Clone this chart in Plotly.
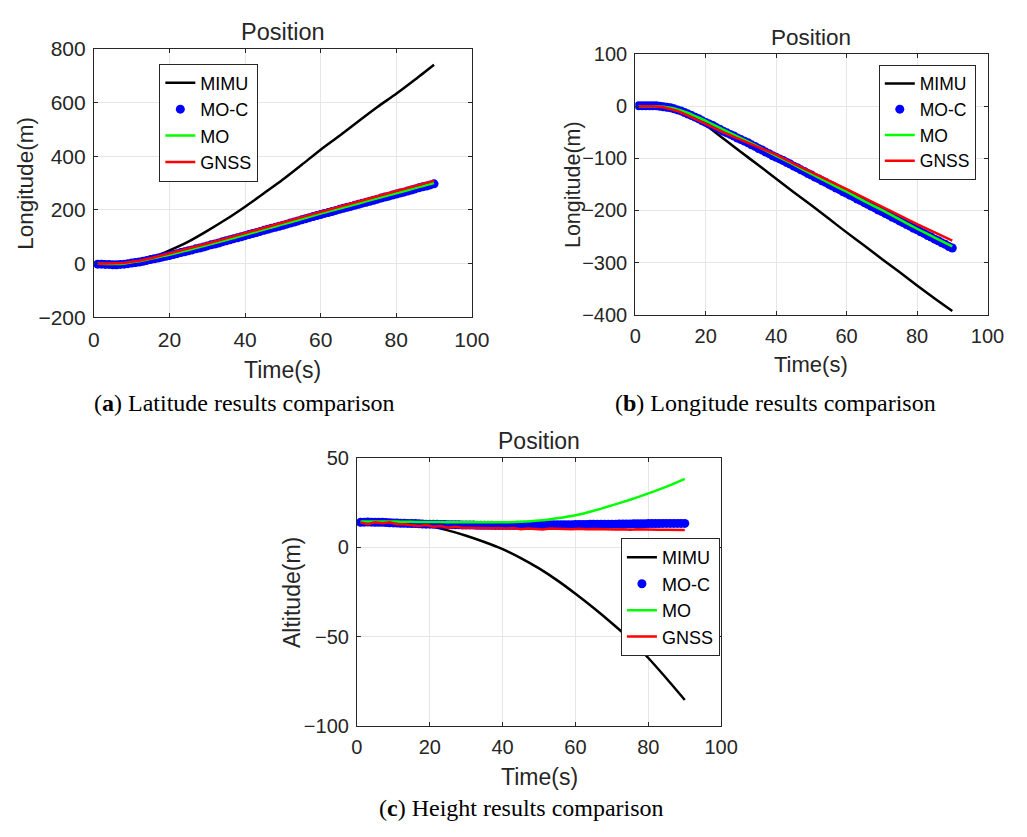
import plotly.graph_objects as go

# ---------------- data ----------------
t_line = [1, 5, 8, 10, 12, 15, 17, 20, 25, 30, 35, 40, 45, 50, 55, 60, 65, 70, 75, 80, 85, 90]
t_dense = [1, 2, 3, 4, 5, 6, 7, 8, 9, 10,
           11, 12, 13, 14, 15, 16, 17, 18, 19, 20,
           21, 22, 23, 24, 25, 26, 27, 28, 29, 30,
           31, 32, 33, 34, 35, 36, 37, 38, 39, 40,
           41, 42, 43, 44, 45, 46, 47, 48, 49, 50,
           51, 52, 53, 54, 55, 56, 57, 58, 59, 60,
           61, 62, 63, 64, 65, 66, 67, 68, 69, 70,
           71, 72, 73, 74, 75, 76, 77, 78, 79, 80,
           81, 82, 83, 84, 85, 86, 87, 88, 89, 90]
t_gnss_c = [1, 3, 5, 7, 9, 11, 13, 15, 17, 19, 21, 23, 25, 27, 29, 31, 33, 35, 37, 39, 41, 43, 45,
            47, 49, 51, 53, 55, 57, 59, 61, 63, 65, 67, 69, 71, 73, 75, 77, 79, 81, 83, 85, 87, 89, 90]

# (a) latitude
lat_mimu = [0, 0, 2, 6, 12, 22, 31, 49, 82, 122, 165, 212, 262, 313, 368, 424, 476, 530, 583, 632, 685, 740]
lat_gnss = [0, 0, 2, 7, 11, 20, 27, 38, 56, 75, 94, 113, 133, 153, 173, 193, 212, 231, 251, 270, 289, 308]
lat_mo = [0, -1, 0, 5, 9, 18, 24, 33, 51, 69, 88, 107, 127, 146, 166, 186, 205, 224, 243, 262, 281, 300]
lat_moc = [-2, -2, -3, -3, -4, -4, -3, -2, 0, 2,
           4, 6, 9, 12, 15, 18, 21, 24, 27, 30,
           34, 37, 41, 44, 48, 51, 55, 58, 62, 66,
           70, 73, 77, 81, 85, 89, 93, 96, 100, 104,
           108, 112, 116, 120, 124, 128, 132, 135, 139, 143,
           147, 151, 155, 159, 163, 167, 171, 175, 179, 183,
           187, 190, 194, 198, 202, 206, 210, 213, 217, 221,
           225, 228, 232, 236, 240, 244, 248, 251, 255, 259,
           263, 266, 270, 274, 278, 282, 286, 289, 293, 297]

# (b) longitude
lon_mimu = [0, 0, -1, -3, -6, -14, -22, -36, -62, -88, -113, -139, -165, -190, -216, -242, -267, -293,
            -318, -344, -369, -393]
lon_gnss = [0, 0, -2, -5, -9, -18, -24, -34, -50, -64, -78, -93, -110, -126, -143, -159, -176, -193,
            -210, -226, -242, -258]
lon_mo = [0, 0, -1, -3, -6, -13, -19, -28, -45, -61, -78, -95, -112, -130, -147, -164, -182, -199,
          -217, -235, -252, -269]
lon_moc = [1, 1, 1, 1, 1, 1, 0, -1, -2, -3,
           -5, -7, -9, -12, -15, -18, -21, -24, -28, -31,
           -34, -37, -41, -44, -48, -51, -54, -57, -61, -64,
           -67, -70, -74, -77, -81, -84, -88, -91, -95, -98,
           -101, -104, -108, -111, -115, -118, -122, -125, -129, -132,
           -136, -139, -143, -146, -150, -153, -157, -160, -164, -167,
           -171, -174, -178, -181, -185, -188, -192, -195, -199, -202,
           -206, -209, -213, -216, -220, -223, -227, -230, -234, -237,
           -241, -244, -248, -251, -255, -258, -262, -265, -269, -272]

# (c) height
alt_mimu = [14, 14, 13.8, 13.5, 13.3, 13, 12.6, 12, 9.5, 6.5, 3, -1, -6, -11.8, -18.5, -26, -34, -42.5,
            -51.5, -62, -73.5, -85.5]
alt_mo = [14.5, 14.5, 14.5, 14.5, 14.4, 14.3, 14.2, 14.2, 14.1, 14, 14, 14, 14.3, 15, 16.3, 18, 20.5,
          23.5, 26.7, 30.2, 34, 38.4]
alt_moc = [14, 14.1, 14.2, 14.1, 14, 14, 14, 13.9, 13.8, 13.7,
           13.6, 13.5, 13.5, 13.4, 13.3, 13.3, 13.2, 13.1, 13, 13,
           12.9, 12.9, 12.8, 12.8, 12.7, 12.7, 12.6, 12.6, 12.5, 12.5,
           12.5, 12.5, 12.4, 12.4, 12.4, 12.4, 12.4, 12.3, 12.3, 12.3,
           12.3, 12.3, 12.3, 12.4, 12.4, 12.4, 12.4, 12.5, 12.5, 12.5,
           12.5, 12.6, 12.6, 12.6, 12.6, 12.7, 12.7, 12.7, 12.7, 12.8,
           12.8, 12.8, 12.8, 12.9, 12.9, 12.9, 12.9, 13, 13, 13,
           13, 13.1, 13.1, 13.1, 13.1, 13.2, 13.2, 13.2, 13.2, 13.3,
           13.3, 13.3, 13.3, 13.4, 13.4, 13.4, 13.4, 13.4, 13.4, 13.4]
alt_gnss = [14, 13, 14, 13.5, 14, 13, 13, 12.5, 12, 12.5, 11.5, 12, 11, 11.5, 11, 11, 10.8, 11, 10.7,
            10.9, 10.6, 10.8, 10.2, 10.6, 10.3, 10, 10.5, 10.3, 10.4, 10.2, 10.4, 10.1, 10.3, 10.1,
            10.2, 10, 10.2, 9.9, 10.1, 9.9, 10, 9.8, 9.9, 9.7, 9.8, 9.7]

series_names = ["MIMU", "MO-C", "MO", "GNSS"]
x_ticks = [0, 20, 40, 60, 80, 100]
y_ticks_a = [-200, 0, 200, 400, 600, 800]
y_ticks_b = [-400, -300, -200, -100, 0, 100]
y_ticks_c = [-100, -50, 0, 50]

# ---------------- figure ----------------
W, H = 1027, 837
FONT = "Liberation Sans, Arial, sans-serif"
TXT = "#262626"

fig = go.Figure()

panels = [
    ("", "legend", lat_mimu, lat_moc, lat_mo, lat_gnss, t_line),
    ("2", "legend2", lon_mimu, lon_moc, lon_mo, lon_gnss, t_line),
    ("3", "legend3", alt_mimu, alt_moc, alt_mo, alt_gnss, t_gnss_c),
]
for suf, leg, mimu, moc, mo, gnss, tg in panels:
    xa, ya = "x" + suf, "y" + suf
    fig.add_trace(go.Scatter(x=t_line, y=mimu, mode="lines", name=series_names[0],
                             line=dict(color="#000000", width=2.5, shape="spline", smoothing=0.6),
                             xaxis=xa, yaxis=ya, legend=leg))
    fig.add_trace(go.Scatter(x=t_dense, y=moc, mode="markers", name=series_names[1],
                             marker=dict(color="#0000FF", size=9, symbol="circle", line=dict(width=0)),
                             xaxis=xa, yaxis=ya, legend=leg))
    fig.add_trace(go.Scatter(x=t_line, y=mo, mode="lines", name=series_names[2],
                             line=dict(color="#00FF00", width=2.5, shape="spline", smoothing=0.6),
                             xaxis=xa, yaxis=ya, legend=leg))
    fig.add_trace(go.Scatter(x=tg, y=gnss, mode="lines", name=series_names[3],
                             line=dict(color="#FF0000", width=2.5),
                             xaxis=xa, yaxis=ya, legend=leg))


def px_x(p):
    return p / W


def px_y(p):
    return 1 - p / H


def axis_common(fs):
    return dict(showline=True, linecolor=TXT, linewidth=1, mirror="ticks", ticks="inside",
                ticklen=4, tickcolor=TXT, showgrid=True, gridcolor="#e6e6e6", gridwidth=1,
                zeroline=False, tickfont=dict(family=FONT, size=fs, color=TXT))


boxes = {
    "a": dict(x0=90, x1=477, y0=37.7, y1=314, yr=[-200, 800], yt=y_ticks_a, fs=21),
    "b": dict(x0=644.3, x1=1005, y0=43.3, y1=311.3, yr=[-400, 100], yt=y_ticks_b, fs=20),
    "c": dict(x0=359.3, x1=732.3, y0=458.7, y1=734, yr=[-100, 50], yt=y_ticks_c, fs=20),
}
keys = {"a": ("xaxis", "yaxis", "y", "x"), "b": ("xaxis2", "yaxis2", "y2", "x2"),
        "c": ("xaxis3", "yaxis3", "y3", "x3")}
lay = {}
for k, b in boxes.items():
    xk, yk, anc_y, anc_x = keys[k]
    lay[xk] = dict(domain=[px_x(b["x0"]), px_x(b["x1"])], range=[0, 100], tickvals=x_ticks,
                   anchor=anc_y, ticklabelstandoff=3, **axis_common(b["fs"]))
    lay[yk] = dict(domain=[px_y(b["y1"]), px_y(b["y0"])], range=b["yr"], tickvals=b["yt"],
                   anchor=anc_x, ticklabelstandoff=3, **axis_common(b["fs"]))

annotations = []


def ann(text, x, y, size, angle=0, family=FONT, color=TXT):
    annotations.append(dict(text=text, x=px_x(x), y=px_y(y), xref="paper", yref="paper",
                            showarrow=False, xanchor="center", yanchor="middle", textangle=angle,
                            font=dict(family=family, size=size, color=color)))


# titles
ann("Position", 283.5, 20.7, 23.5)
ann("Position", 824.5, 26.7, 22.5)
ann("Position", 545.8, 440.7, 23)
# x labels
ann("Time(s)", 283.5, 368, 23)
ann("Time(s)", 824.5, 362.7, 22)
ann("Time(s)", 545.8, 786.7, 23)
# y labels
ann("Longitude(m)", 20, 176, 22.5, angle=-90)
ann("Longitude(m)", 580, 177.5, 21.5, angle=-90)
ann("Altitude(m)", 292.7, 596.5, 23, angle=-90)
# captions
SERIF = "Liberation Serif, Times New Roman, serif"
ann("(<b>a</b>) Latitude results comparison", 243.7, 401.7, 24, family=SERIF, color="#000000")
ann("(<b>b</b>) Longitude results comparison", 787.5, 401.7, 24, family=SERIF, color="#000000")
ann("(<b>c</b>) Height results comparison", 527.5, 818.3, 24, family=SERIF, color="#000000")


def legend_style(x, y, xanchor, fs):
    return dict(x=x, y=y, xref="paper", yref="paper", xanchor=xanchor, yanchor="top",
                bgcolor="#ffffff", bordercolor=TXT, borderwidth=1,
                font=dict(family=FONT, size=fs, color="#000000"), tracegroupgap=0,
                itemwidth=30)


fig.update_layout(
    width=W, height=H, autosize=False,
    margin=dict(l=0, r=0, t=0, b=0),
    paper_bgcolor="#ffffff", plot_bgcolor="#ffffff",
    showlegend=True,
    legend=legend_style(px_x(157), px_y(53), "left", 18),
    legend2=legend_style(px_x(993), px_y(54), "right", 17.5),
    legend3=legend_style(px_x(731), px_y(541), "right", 18),
    annotations=annotations,
    **lay,
)

fig.write_html("out.html")
